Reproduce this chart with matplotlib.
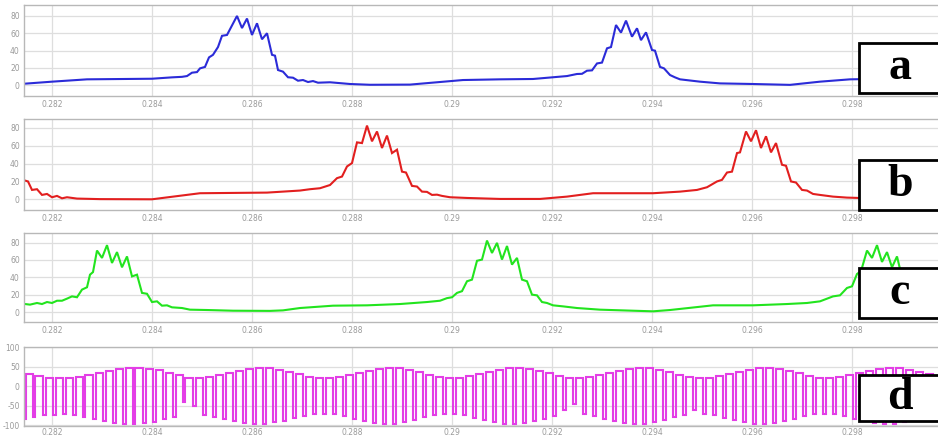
import numpy as np
import matplotlib
matplotlib.use("Agg")
import matplotlib.pyplot as plt
from matplotlib.patches import Rectangle
from matplotlib.ticker import FormatStrFormatter

plt.rcParams['axes.unicode_minus'] = False

# ---- panel a (blue) : time [s], value
t_a = [0.28144, 0.28200, 0.28270, 0.28400, 0.28440, 0.28460, 0.28470, 0.28480, 0.28490, 0.28496,
       0.28506, 0.28514, 0.28522, 0.28532, 0.28540, 0.28550, 0.28570, 0.28580, 0.28590, 0.28600,
       0.28610, 0.28620, 0.28630, 0.28640, 0.28646, 0.28652, 0.28662, 0.28672, 0.28682, 0.28692,
       0.28702, 0.28712, 0.28722, 0.28732, 0.28756, 0.28796, 0.28836, 0.28916, 0.29022, 0.29096,
       0.29162, 0.29202, 0.29230, 0.29250, 0.29260, 0.29270, 0.29280, 0.29290, 0.29300, 0.29310,
       0.29318, 0.29328, 0.29338, 0.29348, 0.29360, 0.29370, 0.29378, 0.29388, 0.29400, 0.29406,
       0.29416, 0.29424, 0.29436, 0.29446, 0.29456, 0.29496, 0.29536, 0.29602, 0.29676, 0.29736,
       0.29796, 0.29896, 0.29972]
v_a = [1.5, 3.9, 6.6, 7.3, 8.9, 9.5, 10.4, 14.3, 15.0, 19.3,
       21.0, 32.0, 35.0, 44.0, 57.0, 58.0, 80.0, 66.0, 77.0, 58.0,
       71.5, 53.0, 60.0, 35.0, 34.0, 17.4, 15.5, 9.0, 8.5, 5.0,
       5.8, 3.5, 4.6, 2.7, 3.2, 1.2, 0.3, 0.5, 5.8, 6.6,
       7.0, 9.0, 10.4, 12.8, 13.0, 16.6, 17.0, 25.0, 26.0, 42.5,
       44.0, 69.5, 60.7, 74.6, 56.0, 65.7, 52.0, 61.0, 40.6, 39.8,
       21.0, 19.3, 11.6, 8.9, 6.6, 3.9, 1.9, 1.2, 0.2, 3.9,
       6.6, 7.5, 8.0]

# ---- panel b (red)
t_b = [0.28146, 0.28152, 0.28160, 0.28170, 0.28180, 0.28190, 0.28200, 0.28210, 0.28220, 0.28230,
       0.28250, 0.28296, 0.28400, 0.28496, 0.28630, 0.28696, 0.28716, 0.28736, 0.28756, 0.28770,
       0.28780, 0.28790, 0.28800, 0.28810, 0.28820, 0.28830, 0.28840, 0.28850, 0.28860, 0.28870,
       0.28880, 0.28890, 0.28900, 0.28908, 0.28920, 0.28930, 0.28940, 0.28950, 0.28960, 0.28970,
       0.28980, 0.28996, 0.29030, 0.29096, 0.29176, 0.29230, 0.29282, 0.29402, 0.29456, 0.29490,
       0.29510, 0.29530, 0.29540, 0.29550, 0.29560, 0.29570, 0.29576, 0.29588, 0.29598, 0.29608,
       0.29618, 0.29628, 0.29638, 0.29648, 0.29660, 0.29668, 0.29678, 0.29688, 0.29700, 0.29710,
       0.29722, 0.29736, 0.29762, 0.29790, 0.29814, 0.29972]
v_b = [21.0, 20.0, 10.5, 11.3, 4.9, 6.0, 2.3, 3.8, 1.1, 2.3,
       0.8, 0.2, 0.0, 6.8, 7.5, 9.8, 11.3, 12.4, 16.0, 23.7,
       25.5, 36.8, 40.6, 63.8, 63.0, 82.6, 65.0, 76.0, 57.5, 71.4,
       51.8, 55.6, 31.0, 30.0, 15.0, 14.3, 8.6, 8.3, 4.9, 5.2,
       3.8, 2.3, 1.5, 0.4, 0.4, 3.0, 6.8, 6.8, 8.6, 10.5,
       13.5, 20.0, 21.8, 30.0, 31.0, 51.8, 52.6, 76.0, 65.0, 77.4,
       57.5, 70.6, 52.6, 63.0, 38.7, 37.6, 20.0, 18.8, 10.5, 9.8,
       6.0, 4.9, 3.0, 1.9, 1.5, 0.5]

# ---- panel c (green)
t_c = [0.28146, 0.28156, 0.28170, 0.28180, 0.28190, 0.28200, 0.28210, 0.28220, 0.28230, 0.28240,
       0.28250, 0.28260, 0.28270, 0.28276, 0.28282, 0.28290, 0.28300, 0.28310, 0.28320, 0.28330,
       0.28340, 0.28350, 0.28360, 0.28370, 0.28380, 0.28390, 0.28400, 0.28410, 0.28420, 0.28430,
       0.28440, 0.28460, 0.28476, 0.28510, 0.28562, 0.28636, 0.28662, 0.28696, 0.28762, 0.28830,
       0.28896, 0.28950, 0.28976, 0.28990, 0.29000, 0.29010, 0.29020, 0.29030, 0.29040, 0.29050,
       0.29060, 0.29070, 0.29080, 0.29090, 0.29100, 0.29110, 0.29120, 0.29130, 0.29140, 0.29150,
       0.29160, 0.29170, 0.29180, 0.29190, 0.29202, 0.29222, 0.29250, 0.29296, 0.29362, 0.29402,
       0.29436, 0.29522, 0.29602, 0.29670, 0.29710, 0.29736, 0.29762, 0.29776, 0.29790, 0.29800,
       0.29810, 0.29818, 0.29830, 0.29840, 0.29850, 0.29860, 0.29870, 0.29880, 0.29890, 0.29900,
       0.29910, 0.29920, 0.29930, 0.29940, 0.29950, 0.29960, 0.29972]
v_c = [9.2, 8.5, 10.4, 9.2, 11.5, 10.4, 13.0, 13.0, 15.4, 18.0,
       17.0, 25.8, 28.5, 43.0, 46.0, 70.8, 62.3, 77.0, 56.5, 69.0,
       51.5, 64.0, 41.0, 43.0, 22.0, 21.0, 11.5, 12.3, 7.3, 7.7,
       5.4, 4.6, 2.7, 2.3, 1.5, 1.3, 1.9, 4.6, 7.3, 7.7,
       9.2, 11.5, 13.0, 16.0, 17.0, 22.0, 24.0, 35.4, 37.3, 59.0,
       60.4, 82.3, 68.0, 79.6, 60.4, 76.0, 54.6, 62.3, 37.3, 35.4,
       20.0, 19.2, 11.5, 10.4, 7.7, 6.5, 4.6, 2.7, 1.5, 0.8,
       2.3, 7.7, 7.7, 9.2, 10.4, 12.3, 18.0, 19.2, 27.7, 29.6,
       43.8, 47.0, 70.8, 62.3, 77.0, 57.7, 69.0, 51.5, 64.0, 40.0,
       42.0, 22.0, 21.0, 11.5, 12.0, 7.5, 7.0]

# ---- panel d (magenta) : PWM pulses, one per 0.2 ms
d_t0 = 0.28142
d_period = 0.0002
d_width = 0.00005
d_high = [32, 26, 22, 21, 22, 25, 29, 34, 40, 44, 47, 47, 45, 41, 35, 28, 22, 21, 23, 28,
          34, 40, 45, 47, 46, 42, 37, 31, 25, 21, 21, 23, 28, 34, 40, 45, 47, 46, 42, 36,
          30, 24, 21, 22, 26, 32, 38, 43, 47, 47, 44, 39, 33, 27, 22, 21, 23, 28, 34, 40,
          45, 47, 46, 42, 36, 30, 24, 21, 22, 26, 32, 38, 43, 47, 47, 44, 39, 33, 27, 22,
          21, 23, 28, 34, 40, 45, 47, 46, 42, 37, 31, 25]
d_low = [-83, -79, -75, -73, -72, -74, -78, -84, -89, -94, -97, -97, -95, -91, -85, -78, -40, -50, -73, -79,
         -85, -90, -95, -98, -96, -93, -88, -82, -76, -71, -70, -72, -77, -83, -89, -94, -97, -96, -92, -86,
         -80, -74, -70, -71, -75, -81, -87, -92, -97, -97, -94, -89, -83, -77, -60, -45, -72, -77, -83, -89,
         -94, -97, -96, -92, -86, -80, -74, -62, -71, -75, -81, -87, -92, -96, -97, -94, -89, -83, -77, -72,
         -70, -72, -77, -83, -89, -94, -97, -96, -92, -87, -81, -75]

x_ticks = [0.282, 0.284, 0.286, 0.288, 0.290, 0.292, 0.294, 0.296, 0.298]
labels = ['a', 'b', 'c', 'd']

# build the step waveform for panel d
pulse_t = d_t0 + d_period * np.arange(len(d_high))
td, vd = [], []
prev = d_high[0]
for tk, hi, lo in zip(pulse_t, d_high, d_low):
    td += [tk, tk, tk + d_width, tk + d_width]
    vd += [prev, lo, lo, hi]
    prev = hi

W, H = 938, 437
fig = plt.figure(figsize=(W / 100, H / 100), dpi=100)
fig.patch.set_facecolor('white')

# (top px, bottom px, ylim, yticks, data, colour)
panels = [
    (5, 96, (-12.7, 92.7), [0, 20, 40, 60, 80], (t_a, v_a), '#2b2bd8'),
    (119, 210, (-12.0, 90.0), [0, 20, 40, 60, 80], (t_b, v_b), '#e21f1f'),
    (233, 322, (-11.5, 91.0), [0, 20, 40, 60, 80], (t_c, v_c), '#22e41e'),
    (347, 426, (-102, 101), [-100, -50, 0, 50, 100], (td, vd), '#e33ee6'),
]
boxes = [(43, 93), (160, 210), (268, 318), (375, 421)]

left = 24
for i, ((top, bot, yl, yt, (tx, vy), col), lab, (bt, bb)) in enumerate(zip(panels, labels, boxes)):
    ax = fig.add_axes([left / W, 1 - bot / H, (W - left) / W, (bot - top) / H])
    ax.plot(tx, vy, color=col, lw=1.5, solid_joinstyle='miter')
    ax.set_xlim(0.28144, 0.29972)
    ax.set_ylim(*yl)
    ax.set_xticks(x_ticks)
    ax.set_yticks(yt)
    ax.xaxis.set_major_formatter(FormatStrFormatter('%g'))
    ax.grid(True, color='#dedede', lw=0.9)
    ax.set_axisbelow(True)
    ax.tick_params(length=0, labelsize=5.5, colors='#9a9a9a', pad=3)
    if i == 3:
        ax.tick_params(axis='x', pad=1.2)
    for s in ax.spines.values():
        s.set_color('#b8b8b8')
        s.set_linewidth(1.0)
    ax.spines['right'].set_visible(False)

    # label box on top
    fig.patches.append(Rectangle((859 / W, 1 - bb / H), (W - 859 + 5) / W, (bb - bt) / H,
                                 transform=fig.transFigure, facecolor='white',
                                 edgecolor='black', lw=2.0, zorder=10))
    fig.text(900 / W, 1 - (bt + bb) / 2 / H, lab, ha='center', va='center',
             fontsize=33, fontweight='bold', family='Liberation Serif', zorder=11)

fig.savefig('out.png', dpi=100)
